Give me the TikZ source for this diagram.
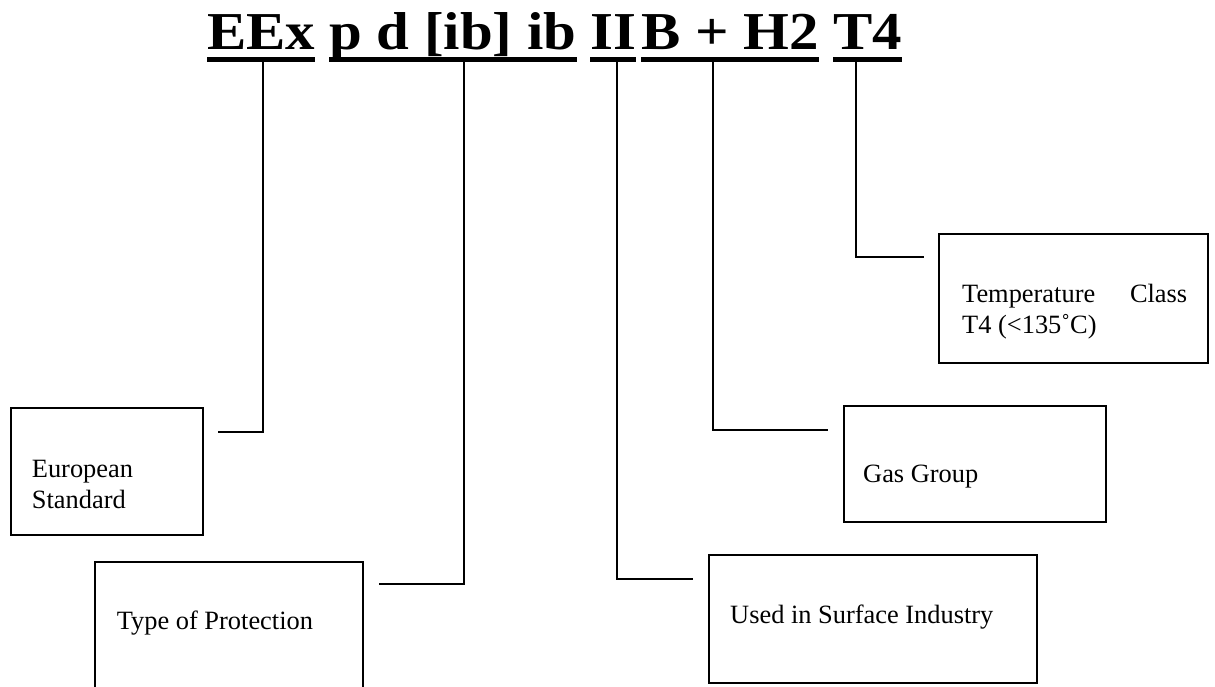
\documentclass[tikz,border=0pt]{standalone}
\usepackage{fontspec}
\setmainfont{Liberation Serif}
\newfontfamily\titlefont[FakeStretch=1.105]{Liberation Serif}
\begin{document}
\begin{tikzpicture}[x=1pt,y=-1pt,
  box/.style={draw, line width=1.7pt, rectangle, inner sep=0pt, outer sep=0pt, anchor=north west},
  lbl/.style={anchor=base west, inner sep=0pt, font=\fontsize{26.4}{31}\selectfont},
  ttl/.style={anchor=base west, inner sep=0pt, font=\titlefont\bfseries\fontsize{53.3}{60}\selectfont},
  uline/.style={line width=5pt},
  conn/.style={line width=1.7pt}]
\clip (0,0) rectangle (1215,686);
% title
\node[ttl] (t1) at (207,49) {EEx};
\node[ttl] (t2) at (329,49) {p d [ib] ib};
\node[ttl] (t3) at (590,49) {II};
\node[ttl] (t4) at (641,49) {B + H2};
\node[ttl] (t5) at (833,49) {T4};
\foreach \t in {t1,t2,t3,t4,t5}
  \draw[uline] ([yshift=-10.2pt]\t.base west) -- ([yshift=-10.2pt]\t.base east);
% boxes
\node[box, minimum width=192.3pt, minimum height=127pt] (bEU) at (10.7,408) {};
\node[box, minimum width=268pt, minimum height=150pt] (bTP) at (95,561.7) {};
\node[box, minimum width=328pt, minimum height=128pt] (bUS) at (709,555) {};
\node[box, minimum width=262pt, minimum height=116pt] (bGG) at (844,406) {};
\node[box, minimum width=269pt, minimum height=129pt] (bTC) at (939,234) {};
% labels
\node[lbl] (l1a) at (31.7,477) {European};
\node[lbl] (l1b) at (31.7,508) {Standard};
\node[lbl] (l2) at (116.7,629) {Type of Protection};
\node[lbl] (l3) at (730,623) {Used in Surface Industry};
\node[lbl] (l4) at (863,482.5) {Gas Group};
\node[lbl] (l5a) at (962,302.5) {\makebox[225pt][l]{Temperature\hfill Class}};
\node[lbl] (l5b) at (962,333) {T4 (<135˚C)};
% connectors
\coordinate (s1) at (263,61.5); \coordinate (e1) at (218,432);
\coordinate (s2) at (464,61.5); \coordinate (e2) at (379,584);
\coordinate (s3) at (617,61.5); \coordinate (e3) at (693,579);
\coordinate (s4) at (713,61.5); \coordinate (e4) at (828,430);
\coordinate (s5) at (856,61.5); \coordinate (e5) at (924,257);
\draw[conn] (s1) |- (e1);
\draw[conn] (s2) |- (e2);
\draw[conn] (s3) |- (e3);
\draw[conn] (s4) |- (e4);
\draw[conn] (s5) |- (e5);
\end{tikzpicture}
\end{document}
